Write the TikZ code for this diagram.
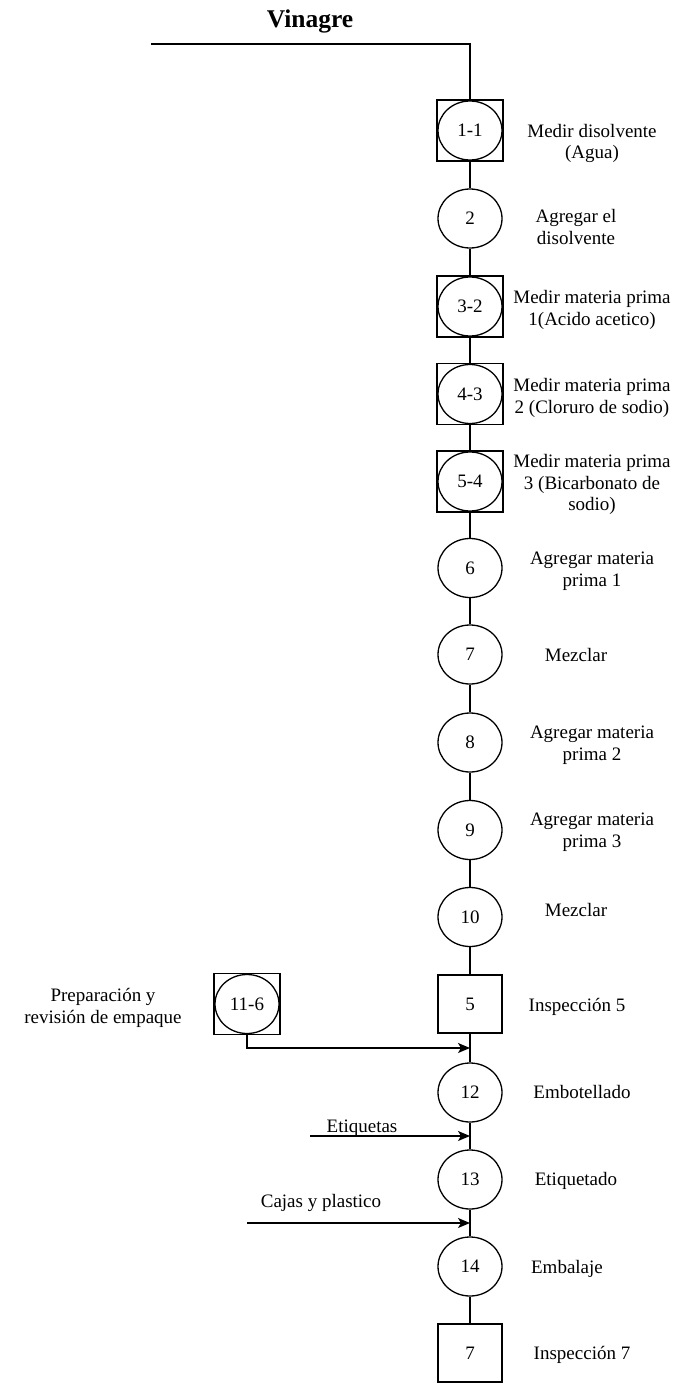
\documentclass[tikz,border=0pt]{standalone}
\usepackage{fontspec}
\setmainfont{Liberation Serif}
\usetikzlibrary{arrows.meta,shapes.geometric}
\begin{document}
\begin{tikzpicture}[x=1pt,y=-1pt,line width=1.3pt,
  every node/.style={font=\fontsize{19}{21.5}\selectfont},
  op/.style={draw,ellipse,minimum width=64pt,minimum height=59pt,inner sep=0pt},
  opsq/.style={draw,rectangle,minimum width=66pt,minimum height=61pt,inner sep=0pt},
  insp/.style={draw,rectangle,minimum width=64pt,minimum height=58pt,inner sep=0pt},
  lbl/.style={align=center,anchor=base,inner sep=0pt},
  flow/.style={-{Stealth[length=12pt,width=10pt,inset=3pt]}}]
\useasboundingbox (0,0) rectangle (674,1383);

% title and incoming line
\node[anchor=base,inner sep=0pt,font=\fontsize{25.5}{28}\selectfont\bfseries] (title) at (310,28) {Vinagre};
\coordinate (vin) at (151,44);
\coordinate (vcorner) at (470,44);

% combined operation-inspection steps (square with circle)
\node[opsq] (s1) at (470,130.5) {};
\node[op] (c1) at (470,130.5) {1-1};
\node[op] (c2) at (470,218.5) {2};
\node[opsq] (s3) at (470,306.5) {};
\node[op] (c3) at (470,306.5) {3-2};
\node[opsq] (s4) at (470,394) {};
\node[op] (c4) at (470,394) {4-3};
\node[opsq] (s5) at (470,481.5) {};
\node[op] (c5) at (470,481.5) {5-4};
\node[op] (c6) at (470,568) {6};
\node[op] (c7) at (470,654.5) {7};
\node[op] (c8) at (470,742.5) {8};
\node[op] (c9) at (470,830) {9};
\node[op] (c10) at (470,917) {10};
\node[insp] (i5) at (470,1004) {5};
\node[op] (c12) at (470,1092.5) {12};
\node[op] (c13) at (470,1179.5) {13};
\node[op] (c14) at (470,1266.5) {14};
\node[insp] (i7) at (470,1353) {7};

\node[opsq] (s11) at (247,1004) {};
\node[op] (c11) at (247,1004) {11-6};

% labels (anchored at the baseline of their last line)
\node[lbl] (l1) at (592,159) {Medir disolvente\\(Agua)};
\node[lbl] (l2) at (576,244) {Agregar el\\disolvente};
\node[lbl] (l3) at (592,325) {Medir materia prima\\1(Acido acetico)};
\node[lbl] (l4) at (592,413) {Medir materia prima\\2 (Cloruro de sodio)};
\node[lbl] (l5) at (592,510.5) {Medir materia prima\\3 (Bicarbonato de\\sodio)};
\node[lbl] (l6) at (592,586) {Agregar materia\\prima 1};
\node[lbl] (l7) at (576,661.5) {Mezclar};
\node[lbl] (l8) at (592,760) {Agregar materia\\prima 2};
\node[lbl] (l9) at (592,847) {Agregar materia\\prima 3};
\node[lbl] (l10) at (576,916.5) {Mezclar};
\node[lbl] (li5) at (577,1011.5) {Inspección 5};
\node[lbl] (l12) at (582,1098.5) {Embotellado};
\node[lbl] (l13) at (576,1185.5) {Etiquetado};
\node[lbl] (l14) at (567,1273.5) {Embalaje};
\node[lbl] (li7) at (582,1359.5) {Inspección 7};
\node[lbl] (l11) at (103,1023) {Preparación y\\revisión de empaque};
\node[lbl] (let) at (362,1132) {Etiquetas};
\node[lbl] (lcaj) at (321,1207) {Cajas y plastico};

% main flow line
\draw (vin) -- (vcorner) -- (s1.north);
\draw (s1.south) -- (c2.north);
\draw (c2.south) -- (s3.north);
\draw (s3.south) -- (s4.north);
\draw (s4.south) -- (s5.north);
\draw (s5.south) -- (c6.north);
\draw (c6.south) -- (c7.north);
\draw (c7.south) -- (c8.north);
\draw (c8.south) -- (c9.north);
\draw (c9.south) -- (c10.north);
\draw (c10.south) -- (i5.north);
\draw (i5.south) -- (c12.north);
\draw (c12.south) -- (c13.north);
\draw (c13.south) -- (c14.north);
\draw (c14.south) -- (i7.north);

% incoming materials
\coordinate (j11) at (470,1048);
\coordinate (eti) at (310,1136);
\coordinate (jeti) at (470,1136);
\coordinate (caj) at (247,1223);
\coordinate (jcaj) at (470,1223);
\draw[flow] (s11.south) |- (j11);
\draw[flow] (eti) -- (jeti);
\draw[flow] (caj) -- (jcaj);
\end{tikzpicture}
\end{document}
